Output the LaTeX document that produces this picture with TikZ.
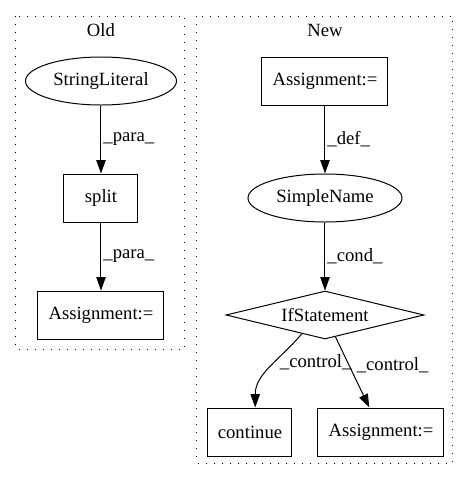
\documentclass[tikz,border=0pt]{standalone}
\usepackage{fontspec}
\setmainfont{Liberation Serif}
\usetikzlibrary{arrows.meta, positioning, shapes.geometric}

\begin{document}
\begin{tikzpicture}[
    x=1pt, y=1pt,
    node distance=51pt,
    font=\fontsize{14}{16}\selectfont,
    box/.style={draw, minimum height=36pt, inner sep=0pt, line width=0.75pt},
    oval/.style={draw, ellipse, minimum height=36pt, inner sep=0pt, line width=0.75pt},
    cond/.style={draw, diamond, aspect=4.125, minimum width=148.5pt, minimum height=36pt, inner sep=0pt, line width=0.75pt},
    cluster/.style={draw, line width=0.75pt, dash pattern=on 1pt off 5pt},
    line/.style={-{Triangle[length=10pt, width=7pt]}, line width=0.75pt},
    lbl/.style={right, inner xsep=1.5pt}
]
\useasboundingbox (0,0) rectangle (351.75,-360);

% Clusters
\draw[cluster] (12,-12) rectangle (138.75,-261.75);
\draw[cluster] (147.75,-12) rectangle (339.75,-347.25);
\node (oldtitle) at (75.75,-22.5) {Old};
\node (newtitle) at (243.75,-22.5) {New};

% Old
\node[oval, minimum width=113.25pt] (strlit) at (75.75,-60.75) {StringLiteral};
\node[box, minimum width=55.5pt, below=of strlit] (split) {split};
\node[box, minimum width=94.5pt, below=of split] (asgold) {Assignment:=};

% New
\node[box, minimum width=94.5pt] (asgdef) at (243.75,-60.75) {Assignment:=};
\node[oval, minimum width=115.5pt, below=of asgdef] (simple) {SimpleName};
\node[cond, below=of simple] (ifst) {IfStatement};
\node[box, minimum width=63pt, below=of ifst, xshift=-56.25pt] (cont) {continue};
\node[box, minimum width=94.5pt, right=18.75pt of cont] (asgnew) {Assignment:=};

% Arrows
\draw[line] (strlit) -- node[lbl] {\_para\_} (split);
\draw[line] (split) -- node[lbl] {\_para\_} (asgold);
\draw[line] (asgdef) -- node[lbl] {\_def\_} (simple);
\draw[line] (simple) -- node[lbl] {\_cond\_} (ifst);
\draw[line] (ifst.-141) to[out=-130, in=90] node[lbl, pos=0.42, xshift=2pt] {\_control\_} (cont.78);
\draw[line] (ifst) -- node[lbl, pos=0.4, xshift=4pt] {\_control\_} (asgnew);

\end{tikzpicture}
\end{document}
